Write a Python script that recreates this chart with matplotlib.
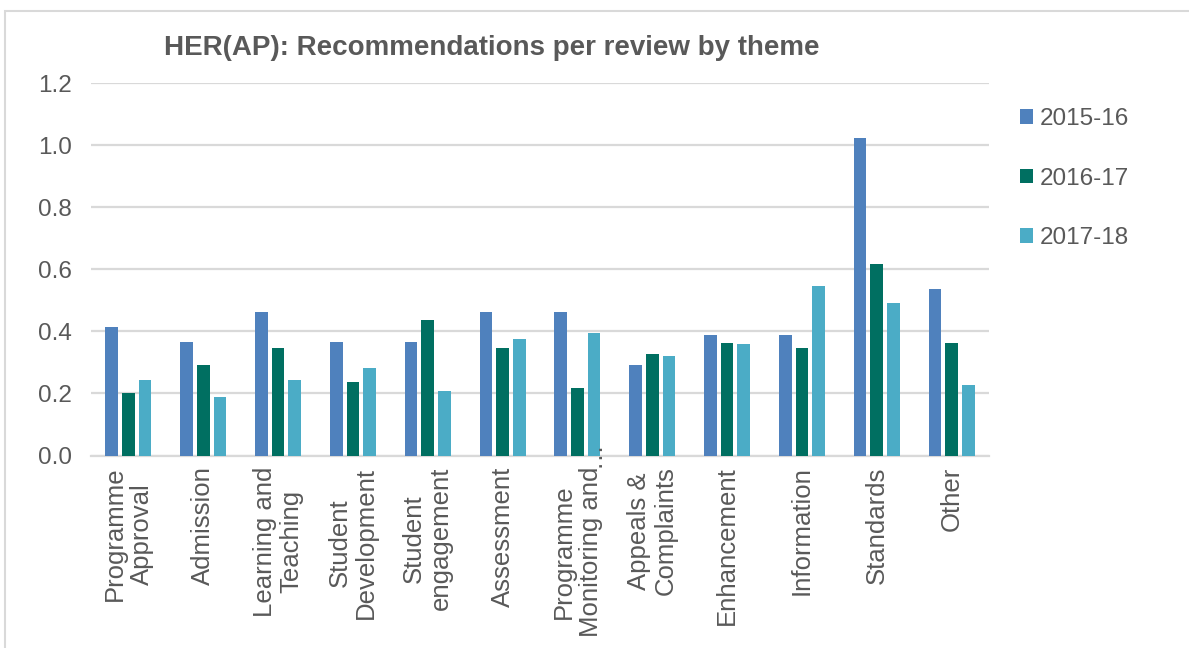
import matplotlib
matplotlib.use("Agg")
import matplotlib.pyplot as plt
import numpy as np
from matplotlib.patches import Rectangle

# Recommendations per review, by theme and academic year
themes = [
    "Programme\nApproval", "Admission", "Learning and\nTeaching",
    "Student\nDevelopment", "Student\nengagement", "Assessment",
    "Programme\nMonitoring and", "Appeals &\nComplaints", "Enhancement",
    "Information", "Standards", "Other",
]
truncated_theme = 6  # label shortened with a trailing ellipsis
years = ["2015-16", "2016-17", "2017-18"]
vals_2015_16 = [0.415, 0.366, 0.463, 0.366, 0.366, 0.463, 0.463, 0.293, 0.390, 0.390, 1.024, 0.537]
vals_2016_17 = [0.200, 0.291, 0.345, 0.236, 0.436, 0.345, 0.218, 0.327, 0.364, 0.345, 0.618, 0.364]
vals_2017_18 = [0.245, 0.189, 0.245, 0.283, 0.208, 0.377, 0.396, 0.321, 0.358, 0.547, 0.491, 0.226]
yticks = [0.0, 0.2, 0.4, 0.6, 0.8, 1.0, 1.2]

series = [vals_2015_16, vals_2016_17, vals_2017_18]
colors = ["#4F81BD", "#006F61", "#4BACC6"]
text_grey = "#595959"
grid_grey = "#D9D9D9"

plt.rcParams["font.family"] = ["Liberation Sans", "DejaVu Sans"]

fig = plt.figure(figsize=(11.89, 6.48), dpi=100)
ax = fig.add_axes([91 / 1189, 1 - 455.5 / 648, 898 / 1189, (455.5 - 83.3) / 648])

x = np.arange(len(themes))
bar_w = 0.17
step = 0.223
for i, (vals, col, lab) in enumerate(zip(series, colors, years)):
    ax.bar(x + (i - 1) * step, vals, width=bar_w, color=col, label=lab, zorder=3)

ax.set_xlim(-0.5, len(themes) - 0.5)
ax.set_ylim(0, 1.2)
ax.set_yticks(yticks)
ax.set_yticklabels([f"{v:.1f}" for v in yticks])
ax.yaxis.grid(True, color=grid_grey, linewidth=1.6, zorder=0)
ax.set_axisbelow(True)
for side in ["left", "right", "top"]:
    ax.spines[side].set_visible(False)
ax.spines["bottom"].set_color(grid_grey)
ax.spines["bottom"].set_linewidth(1.6)
ax.tick_params(axis="y", length=0, pad=14, labelsize=17.5, labelcolor=text_grey)
ax.tick_params(axis="x", length=0, pad=8, labelsize=18.5, labelcolor=text_grey)

ax.set_xticks(x)
ax.set_xticklabels(themes, rotation=90, ha="center", va="top",
                   multialignment="center", linespacing=1.15)

# ellipsis of the truncated label, running up past the axis line
ax.annotate("\u2026", xy=(truncated_theme, 0), xycoords=("data", "axes fraction"),
            xytext=(10.5, -8), textcoords="offset points", rotation=90,
            ha="center", va="bottom", fontsize=18.5, color=text_grey,
            annotation_clip=False)

fig.text(492 / 1189, 1 - 48 / 648, "HER(AP): Recommendations per review by theme",
         ha="center", va="center", fontsize=20, fontweight="bold", color=text_grey)

leg = ax.legend(loc="upper left", bbox_to_anchor=(1020 / 1189, 1 - 108 / 648),
                bbox_transform=fig.transFigure, frameon=False, fontsize=17.5,
                handlelength=0.55, handleheight=0.55, handletextpad=0.25,
                labelspacing=1.55, borderaxespad=0, borderpad=0)
for t in leg.get_texts():
    t.set_color(text_grey)

# light outer frame of the chart area
fig.add_artist(Rectangle((5 / 1189, -0.2), 1.2, 1.2 - 11 / 648,
                         transform=fig.transFigure, fill=False,
                         edgecolor=grid_grey, linewidth=1.5, clip_on=False))

fig.savefig("out.png", dpi=100, facecolor="white")
